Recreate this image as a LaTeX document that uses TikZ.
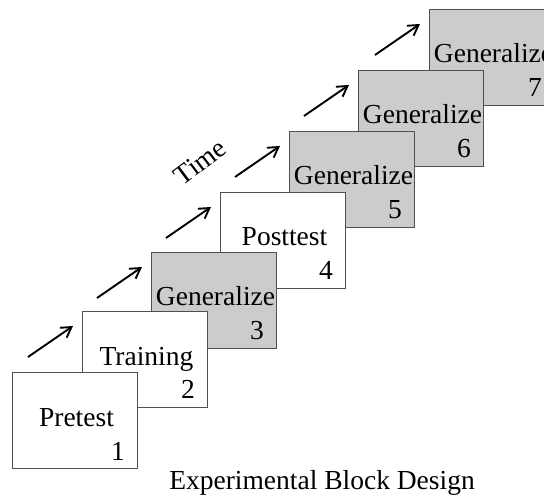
\documentclass[tikz,border=0pt]{standalone}
\usepackage{fontspec}
\setmainfont{Liberation Serif}
\usetikzlibrary{arrows.meta}
\definecolor{blockgray}{RGB}{204,204,204}
\definecolor{blockline}{RGB}{80,80,80}
\tikzset{
  block/.style={draw=blockline,line width=0.8pt,anchor=north west,minimum width=125pt,minimum height=96pt,inner sep=0pt,outer sep=0pt},
  lbl/.style={font=\fontsize{27.5}{31}\selectfont,inner sep=0pt},
  timearrow/.style={-{Straight Barb[length=10pt,width=12pt,line width=1.9pt]},line width=1.9pt,black}
}
\begin{document}
\begin{tikzpicture}[x=1pt,y=-1pt]
  \useasboundingbox (0,0) rectangle (544,497);
  \clip (0,0) rectangle (544,497);
  % blocks, back to front
  \node[block,fill=blockgray] (b7) at (429,9) {};
  \node[lbl,anchor=base] (t7) at ([xshift=2pt,yshift=-54pt]b7.north) {Generalize};
  \node[lbl,anchor=base east] (n7) at ([xshift=-12pt,yshift=-88pt]b7.north east) {7};
  \node[block,fill=blockgray] (b6) at (358,70) {};
  \node[lbl,anchor=base] (t6) at ([xshift=2pt,yshift=-54pt]b6.north) {Generalize};
  \node[lbl,anchor=base east] (n6) at ([xshift=-12pt,yshift=-88pt]b6.north east) {6};
  \node[block,fill=blockgray] (b5) at (289,131) {};
  \node[lbl,anchor=base] (t5) at ([xshift=2pt,yshift=-54pt]b5.north) {Generalize};
  \node[lbl,anchor=base east] (n5) at ([xshift=-12pt,yshift=-88pt]b5.north east) {5};
  \node[block,fill=white] (b4) at (220,192) {};
  \node[lbl,anchor=base] (t4) at ([xshift=2pt,yshift=-54pt]b4.north) {Posttest};
  \node[lbl,anchor=base east] (n4) at ([xshift=-12pt,yshift=-88pt]b4.north east) {4};
  \node[block,fill=blockgray] (b3) at (151,252) {};
  \node[lbl,anchor=base] (t3) at ([xshift=2pt,yshift=-54pt]b3.north) {Generalize};
  \node[lbl,anchor=base east] (n3) at ([xshift=-12pt,yshift=-88pt]b3.north east) {3};
  \node[block,fill=white] (b2) at (82,311) {};
  \node[lbl,anchor=base] (t2) at ([xshift=2pt,yshift=-54pt]b2.north) {Training};
  \node[lbl,anchor=base east] (n2) at ([xshift=-12pt,yshift=-88pt]b2.north east) {2};
  \node[block,fill=white] (b1) at (12,372) {};
  \node[lbl,anchor=base] (t1) at ([xshift=2pt,yshift=-54pt]b1.north) {Pretest};
  \node[lbl,anchor=base east] (n1) at ([xshift=-12pt,yshift=-88pt]b1.north east) {1};
  % time arrows
  \draw[timearrow] ([xshift=-54pt,yshift=-46pt]b2.north west) -- ([xshift=-9pt,yshift=-15pt]b2.north west);
  \draw[timearrow] ([xshift=-54pt,yshift=-46pt]b3.north west) -- ([xshift=-9pt,yshift=-15pt]b3.north west);
  \draw[timearrow] ([xshift=-54pt,yshift=-46pt]b4.north west) -- ([xshift=-9pt,yshift=-15pt]b4.north west);
  \draw[timearrow] ([xshift=-54pt,yshift=-46pt]b5.north west) -- ([xshift=-9pt,yshift=-15pt]b5.north west);
  \draw[timearrow] ([xshift=-54pt,yshift=-46pt]b6.north west) -- ([xshift=-9pt,yshift=-15pt]b6.north west);
  \draw[timearrow] ([xshift=-54pt,yshift=-46pt]b7.north west) -- ([xshift=-9pt,yshift=-15pt]b7.north west);
  \node[lbl,rotate=37] (time) at (200,162) {Time};
  \node[lbl,anchor=base] (title) at (322,489) {Experimental Block Design};
\end{tikzpicture}
\end{document}
